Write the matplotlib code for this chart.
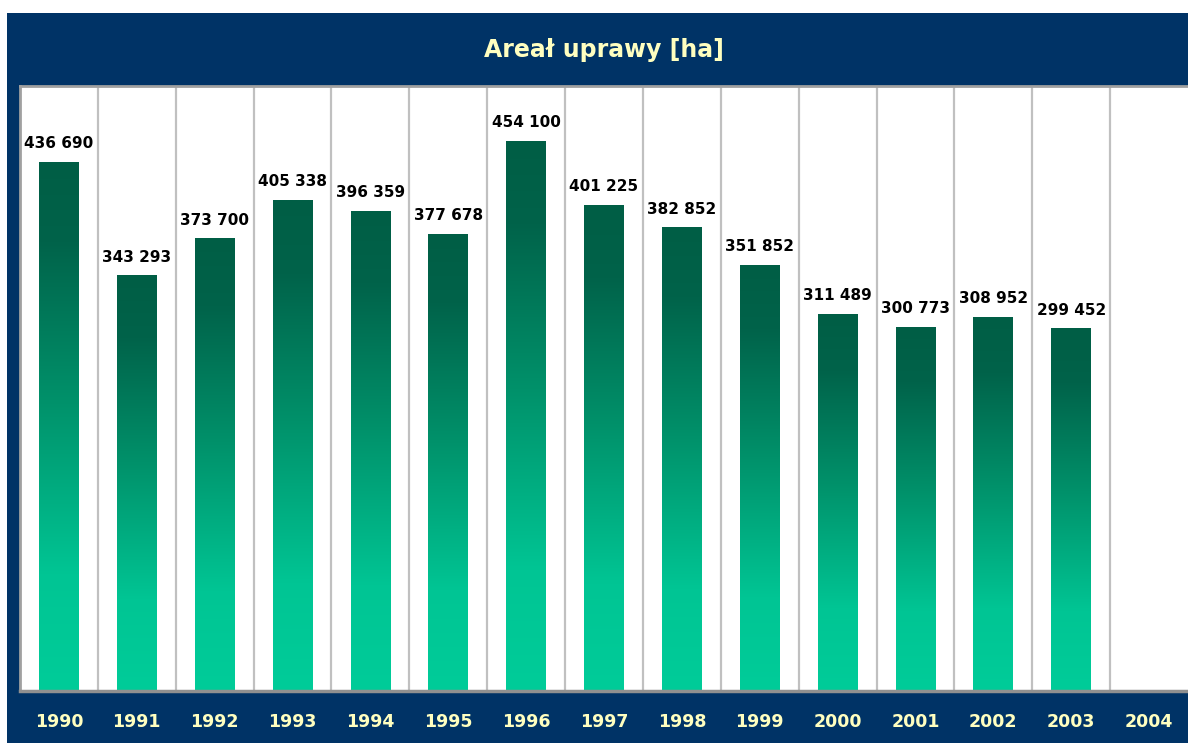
import matplotlib
matplotlib.use("Agg")
import matplotlib.pyplot as plt
import numpy as np
from matplotlib.colors import LinearSegmentedColormap
from matplotlib.patches import Rectangle

years = ["1990", "1991", "1992", "1993", "1994", "1995", "1996", "1997",
         "1998", "1999", "2000", "2001", "2002", "2003", "2004"]
values = [436690, 343293, 373700, 405338, 396359, 377678, 454100, 401225,
          382852, 351852, 311489, 300773, 308952, 299452, np.nan]
title = "Areał uprawy [ha]"

navy = "#003366"
cream = "#FFFFC0"

fig = plt.figure(figsize=(11.88, 7.43), dpi=100)
fig.patch.set_facecolor("white")
W, H = 1188, 743
bg = Rectangle((7 / W, 0), 1 - 7 / W, (H - 13) / H,
               transform=fig.transFigure, facecolor=navy,
               edgecolor="none", zorder=-10)
fig.add_artist(bg)

ax = fig.add_axes([20 / W, 52 / H, (1188 - 20) / W, (691 - 86) / H])
ax.set_zorder(1)
ax.set_facecolor("white")

cmap = LinearSegmentedColormap.from_list(
    "g", [(0.0, "#00CC99"), (0.22, "#00C594"), (0.55, "#00916A"),
          (0.85, "#00634A"), (1.0, "#005E45")])
grad = np.linspace(0, 1, 256).reshape(-1, 1)
bw = 0.51
x = np.arange(len(years))
for xi, v in zip(x, values):
    if np.isnan(v):
        continue
    ax.imshow(grad, cmap=cmap, origin="lower", aspect="auto",
              extent=[xi - bw / 2, xi + bw / 2, 0, v], zorder=2,
              interpolation="bilinear")
    ax.annotate(f"{int(v):,}".replace(",", " "), (xi, v),
                xytext=(0, 8), textcoords="offset points",
                ha="center", va="bottom", fontsize=11, fontweight="bold",
                color="black", zorder=3)

for g in np.arange(0.5, len(years) - 0.5, 1.0):
    ax.axvline(g, color="#C0C0C0", lw=1.6, zorder=1)

ax.set_xlim(-0.5, len(years) - 0.5)
ax.set_ylim(0, 500000)
ax.set_yticks([])
ax.set_xticks(x)
ax.set_xticklabels(years, fontsize=12.5, fontweight="bold", color=cream)
ax.tick_params(axis="x", length=0, pad=16)
for s in ["left", "top"]:
    ax.spines[s].set_color("#A0A0A0")
    ax.spines[s].set_linewidth(2)
ax.spines["bottom"].set_color("#909090")
ax.spines["bottom"].set_linewidth(2.5)
ax.spines["right"].set_visible(False)

fig.text(604 / W, (H - 50) / H, title, ha="center", va="center",
         fontsize=17, fontweight="bold", color=cream)

fig.savefig("out.png", dpi=100, facecolor=fig.get_facecolor())
